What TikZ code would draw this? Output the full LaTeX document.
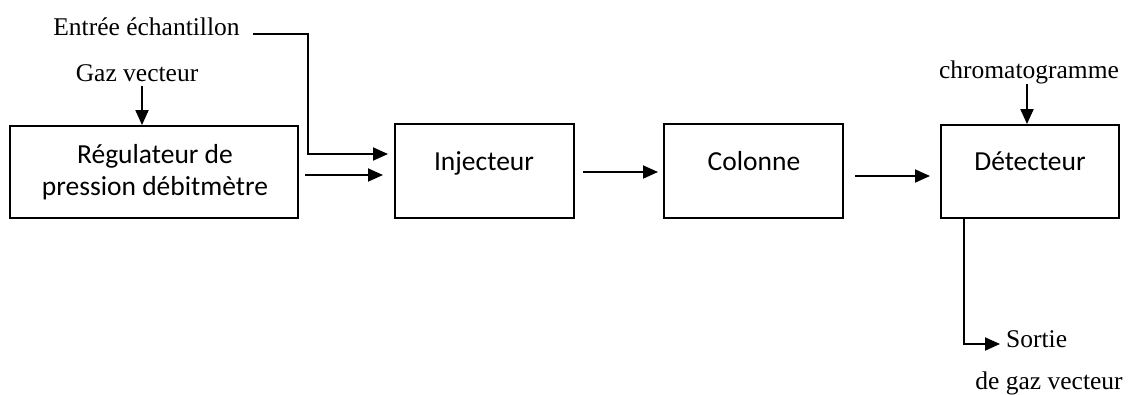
\documentclass[tikz,border=0pt]{standalone}
\usepackage{fontspec}
\setmainfont{Liberation Serif}
\newfontfamily\boxfont{Carlito}
\usetikzlibrary{arrows.meta}
\begin{document}
\begin{tikzpicture}[x=1pt,y=-1pt,
  box/.style={draw,line width=1.9pt,inner sep=0pt},
  flow/.style={line width=1.9pt,-{Triangle[length=15pt,width=13pt]}},
  lbl/.style={font=\fontsize{25.5}{30}\selectfont,inner sep=0pt,anchor=base},
  btxt/.style={font=\boxfont\fontsize{27.5}{32}\selectfont,inner sep=0pt,anchor=base}]
\useasboundingbox (0,0) rectangle (1130,394);
% boxes
\node[box,minimum width=288pt,minimum height=92pt] (reg) at (154,172) {};
\node[box,minimum width=179pt,minimum height=94pt] (inj) at (484.5,171) {};
\node[box,minimum width=179pt,minimum height=94pt] (col) at (753.5,171) {};
\node[box,minimum width=178pt,minimum height=93pt] (det) at (1030,171.5) {};
% box texts
\node[btxt] (reg1) at (155,163) {Régulateur de};
\node[btxt] (reg2) at (155,195) {pression débitmètre};
\node[btxt] (injt) at (484,170) {Injecteur};
\node[btxt] (colt) at (754,170) {Colonne};
\node[btxt] (dett) at (1030,170) {Détecteur};
% labels
\node[lbl] (ent) at (146.5,35) {Entrée échantillon};
\node[lbl] (gaz) at (137,81) {Gaz vecteur};
\node[lbl] (chrom) at (1029,78) {chromatogramme};
\node[lbl,anchor=base west] (sortie) at (1006,347) {Sortie};
\node[lbl] (degaz) at (1049,389) {de gaz vecteur};
% connector end points
\coordinate (e0) at (253,34);
\coordinate (e1) at (308,154);
\coordinate (e2) at (388,154);
\coordinate (g0) at (142,86);
\coordinate (r0) at (305,175);
\coordinate (r1) at (383,175);
\coordinate (i0) at (583,172);
\coordinate (i1) at (658,172);
\coordinate (c0) at (855,176);
\coordinate (c1) at (930,176);
\coordinate (h0) at (1027,84);
\coordinate (d0) at (964,218);
\coordinate (d1) at (1000,344);
% connectors
\draw[flow] (e0) -| (e1) -- (e2);
\draw[flow] (g0) -- (g0 |- reg.north);
\draw[flow] (r0) -- (r1);
\draw[flow] (i0) -- (i1);
\draw[flow] (c0) -- (c1);
\draw[flow] (h0) -- (h0 |- det.north);
\draw[flow] (d0) |- (d1);
\end{tikzpicture}
\end{document}
